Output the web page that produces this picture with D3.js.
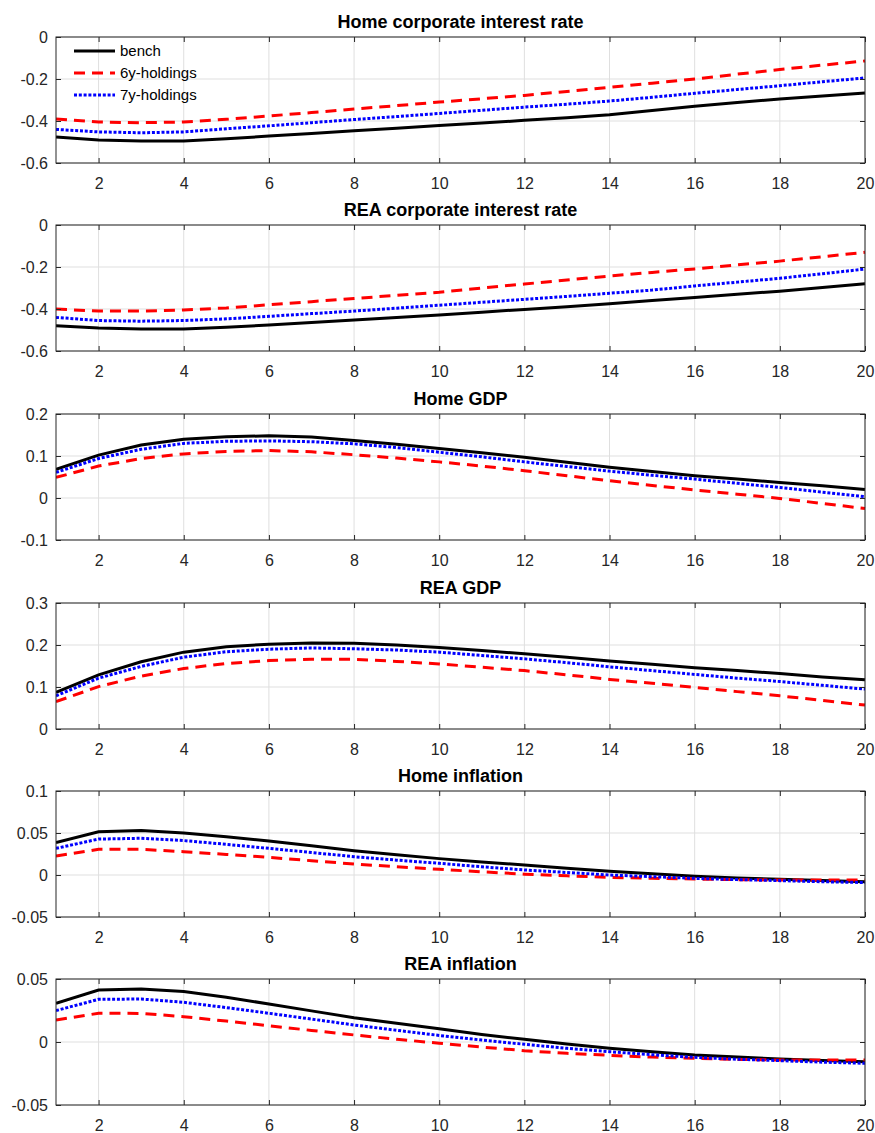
<!DOCTYPE html>
<html>
<head>
<meta charset="utf-8">
<script src="https://cdn.jsdelivr.net/npm/d3@7"></script>
<style>
    body { margin: 0; background: #fff; }
    svg { font-family: "Liberation Sans", Arial, sans-serif; }
    .tick text { fill: #262626; font-size: 16px; }
    .title { font-weight: bold; font-size: 18px; fill: #000; }
</style>
</head>
<body>
<div id="chart"></div>
<script>
    var horizon = d3.range(1, 21);
    var seriesNames = ['bench', '6y-holdings', '7y-holdings'];
    var panelTitles = ['Home corporate interest rate', 'REA corporate interest rate', 'Home GDP',
        'REA GDP', 'Home inflation', 'REA inflation'];
    var yDomains = [[-0.6, 0], [-0.6, 0], [-0.1, 0.2], [0, 0.3], [-0.05, 0.1], [-0.05, 0.05]];
    var yTicks = [
        [-0.6, -0.4, -0.2, 0],
        [-0.6, -0.4, -0.2, 0],
        [-0.1, 0, 0.1, 0.2],
        [0, 0.1, 0.2, 0.3],
        [-0.05, 0, 0.05, 0.1],
        [-0.05, 0, 0.05]
    ];
    var xTicks = [2, 4, 6, 8, 10, 12, 14, 16, 18, 20];

    // Home corporate interest rate
    var homeRateBench = [-0.476, -0.49, -0.495, -0.495, -0.485, -0.472, -0.46, -0.447, -0.435, -0.422,
        -0.41, -0.397, -0.385, -0.37, -0.35, -0.33, -0.312, -0.295, -0.281, -0.267];
    var homeRate6y = [-0.39, -0.405, -0.408, -0.405, -0.392, -0.376, -0.36, -0.343, -0.327, -0.31,
        -0.294, -0.278, -0.259, -0.24, -0.22, -0.2, -0.177, -0.155, -0.134, -0.114];
    var homeRate7y = [-0.44, -0.452, -0.456, -0.452, -0.437, -0.423, -0.408, -0.393, -0.379, -0.364,
        -0.349, -0.334, -0.32, -0.305, -0.287, -0.268, -0.25, -0.232, -0.213, -0.195];

    // REA corporate interest rate
    var reaRateBench = [-0.48, -0.49, -0.495, -0.495, -0.487, -0.476, -0.464, -0.452, -0.44, -0.428,
        -0.415, -0.402, -0.389, -0.375, -0.36, -0.345, -0.33, -0.315, -0.298, -0.28];
    var reaRate6y = [-0.4, -0.41, -0.41, -0.405, -0.395, -0.38, -0.365, -0.35, -0.335, -0.32,
        -0.3, -0.281, -0.262, -0.243, -0.226, -0.209, -0.19, -0.172, -0.151, -0.13];
    var reaRate7y = [-0.44, -0.455, -0.458, -0.455, -0.447, -0.435, -0.422, -0.41, -0.396, -0.382,
        -0.368, -0.354, -0.34, -0.325, -0.31, -0.29, -0.272, -0.254, -0.232, -0.21];

    // Home GDP
    var homeGdpBench = [0.068, 0.102, 0.126, 0.14, 0.146, 0.148, 0.145, 0.137, 0.128, 0.118,
        0.108, 0.097, 0.085, 0.073, 0.063, 0.053, 0.045, 0.037, 0.029, 0.02];
    var homeGdp6y = [0.049, 0.076, 0.094, 0.105, 0.111, 0.113, 0.11, 0.103, 0.095, 0.086,
        0.076, 0.065, 0.053, 0.041, 0.03, 0.019, 0.009, -0.001, -0.013, -0.025];
    var homeGdp7y = [0.061, 0.094, 0.116, 0.13, 0.135, 0.136, 0.134, 0.129, 0.12, 0.109,
        0.098, 0.086, 0.075, 0.064, 0.054, 0.045, 0.035, 0.025, 0.014, 0.003];

    // REA GDP
    var reaGdpBench = [0.087, 0.129, 0.16, 0.183, 0.196, 0.202, 0.205, 0.204, 0.2, 0.194,
        0.187, 0.179, 0.171, 0.162, 0.154, 0.146, 0.139, 0.132, 0.124, 0.117];
    var reaGdp6y = [0.065, 0.101, 0.126, 0.144, 0.156, 0.163, 0.166, 0.166, 0.161, 0.155,
        0.147, 0.139, 0.129, 0.118, 0.109, 0.099, 0.089, 0.079, 0.068, 0.057];
    var reaGdp7y = [0.079, 0.121, 0.149, 0.171, 0.184, 0.19, 0.193, 0.191, 0.188, 0.183,
        0.175, 0.167, 0.158, 0.148, 0.139, 0.13, 0.121, 0.113, 0.104, 0.095];

    // Home inflation
    var homeInflBench = [0.0385, 0.0515, 0.053, 0.05, 0.0455, 0.0405, 0.0348, 0.029, 0.024, 0.0195,
        0.0155, 0.012, 0.008, 0.0045, 0.0015, -0.0015, -0.0035, -0.005, -0.0065, -0.008];
    var homeInfl6y = [0.0226, 0.0306, 0.0305, 0.0278, 0.0245, 0.021, 0.017, 0.0131, 0.0098, 0.0068,
        0.0038, 0.001, -0.001, -0.0028, -0.004, -0.0048, -0.0055, -0.006, -0.006, -0.006];
    var homeInfl7y = [0.0317, 0.0428, 0.0437, 0.041, 0.0365, 0.0317, 0.0268, 0.0218, 0.0177, 0.0139,
        0.0098, 0.006, 0.003, 0.0, -0.002, -0.004, -0.0055, -0.0067, -0.008, -0.009];

    // REA inflation
    var reaInflBench = [0.0307, 0.0413, 0.042, 0.04, 0.0355, 0.0302, 0.0247, 0.0193, 0.0148, 0.0105,
        0.006, 0.0021, -0.0015, -0.005, -0.0078, -0.0103, -0.012, -0.0135, -0.0147, -0.0156];
    var reaInfl6y = [0.0175, 0.0228, 0.0227, 0.0201, 0.0166, 0.0129, 0.0092, 0.0056, 0.0022, -0.001,
        -0.004, -0.0069, -0.009, -0.0106, -0.012, -0.013, -0.0138, -0.0143, -0.0143, -0.0143];
    var reaInfl7y = [0.0249, 0.0339, 0.0341, 0.0315, 0.0273, 0.0228, 0.0182, 0.0135, 0.0093, 0.0052,
        0.0015, -0.0018, -0.005, -0.0077, -0.0101, -0.0122, -0.0137, -0.0148, -0.016, -0.0169];

    var panelSeries = [
        [homeRateBench, homeRate6y, homeRate7y],
        [reaRateBench, reaRate6y, reaRate7y],
        [homeGdpBench, homeGdp6y, homeGdp7y],
        [reaGdpBench, reaGdp6y, reaGdp7y],
        [homeInflBench, homeInfl6y, homeInfl7y],
        [reaInflBench, reaInfl6y, reaInfl7y]
    ];

    /**
     * line styles, same order as seriesNames
     */
    var styles = [
        {color: '#000000', dash: null},
        {color: '#ff0000', dash: '11,7'},
        {color: '#0000ff', dash: '3,1.8'}
    ];

    var width = 875;
    var height = 1133;
    var left = 56;
    var right = 865;
    var panelTops = [37, 225, 414, 603, 791, 979];
    var panelHeight = 126;
    var tickLen = 5;

    var svg = d3.select('#chart').append('svg')
        .attr('width', width)
        .attr('height', height);

    var x = d3.scaleLinear().domain([1, 20]).range([left, right]);

    /**
     * Draws one panel of the figure
     */
    var buildPanel = function (i) {
        var top = panelTops[i];
        var bottom = top + panelHeight;
        var y = d3.scaleLinear().domain(yDomains[i]).range([bottom, top]);
        var g = svg.append('g');

        // grid
        g.append('g').selectAll('line.vgrid')
            .data(xTicks)
            .enter().append('line')
            .attr('x1', function (d) { return x(d); })
            .attr('x2', function (d) { return x(d); })
            .attr('y1', top)
            .attr('y2', bottom)
            .attr('stroke', '#dfdfdf')
            .attr('stroke-width', 1);

        g.append('g').selectAll('line.hgrid')
            .data(yTicks[i])
            .enter().append('line')
            .attr('x1', left)
            .attr('x2', right)
            .attr('y1', function (d) { return y(d); })
            .attr('y2', function (d) { return y(d); })
            .attr('stroke', '#dfdfdf')
            .attr('stroke-width', 1);

        // lines
        var line = d3.line()
            .x(function (d, j) { return x(horizon[j]); })
            .y(function (d) { return y(d); });

        var clipId = 'clip' + i;
        g.append('clipPath').attr('id', clipId)
            .append('rect')
            .attr('x', left).attr('y', top - 2)
            .attr('width', right - left + 2).attr('height', panelHeight + 4);

        panelSeries[i].forEach(function (values, k) {
            g.append('path')
                .datum(values)
                .attr('clip-path', 'url(#' + clipId + ')')
                .attr('d', line)
                .attr('fill', 'none')
                .attr('stroke', styles[k].color)
                .attr('stroke-width', 3)
                .attr('stroke-dasharray', styles[k].dash);
        });

        // axes, ticks inside on all four sides
        g.append('g')
            .attr('transform', 'translate(0,' + bottom + ')')
            .call(d3.axisBottom(x).tickValues(xTicks).tickSizeInner(-tickLen).tickSizeOuter(0).tickPadding(15))
            .call(function (a) { a.select('.domain').remove(); });

        g.append('g')
            .attr('transform', 'translate(0,' + top + ')')
            .call(d3.axisTop(x).tickValues(xTicks).tickSizeInner(-tickLen).tickSizeOuter(0).tickFormat(''))
            .call(function (a) { a.select('.domain').remove(); });

        g.append('g')
            .attr('transform', 'translate(' + left + ',0)')
            .call(d3.axisLeft(y).tickValues(yTicks[i]).tickSizeInner(-tickLen).tickSizeOuter(0).tickPadding(8)
                .tickFormat(function (d) { return d3.format('~g')(d).replace('−', '-'); }))
            .call(function (a) { a.select('.domain').remove(); });

        g.append('g')
            .attr('transform', 'translate(' + right + ',0)')
            .call(d3.axisRight(y).tickValues(yTicks[i]).tickSizeInner(-tickLen).tickSizeOuter(0).tickFormat(''))
            .call(function (a) { a.select('.domain').remove(); });

        g.selectAll('.tick line').attr('stroke', '#262626');

        g.append('rect')
            .attr('x', left).attr('y', top)
            .attr('width', right - left).attr('height', panelHeight)
            .attr('fill', 'none')
            .attr('stroke', '#262626')
            .attr('stroke-width', 1);

        g.append('text')
            .attr('class', 'title')
            .attr('x', (left + right) / 2)
            .attr('y', top - 9)
            .attr('text-anchor', 'middle')
            .text(panelTitles[i]);
    };

    panelTitles.forEach(function (t, i) {
        buildPanel(i);
    });

    /**
     * legend in the first panel
     */
    var legend = svg.append('g').attr('transform', 'translate(74,51)');
    seriesNames.forEach(function (name, k) {
        var row = legend.append('g').attr('transform', 'translate(0,' + (k * 22) + ')');
        row.append('line')
            .attr('x1', 0).attr('x2', 41)
            .attr('y1', 0).attr('y2', 0)
            .attr('stroke', styles[k].color)
            .attr('stroke-width', 3)
            .attr('stroke-dasharray', styles[k].dash);
        row.append('text')
            .attr('x', 46).attr('y', 5)
            .attr('font-size', 15)
            .attr('fill', '#000')
            .text(name);
    });
</script>
</body>
</html>
